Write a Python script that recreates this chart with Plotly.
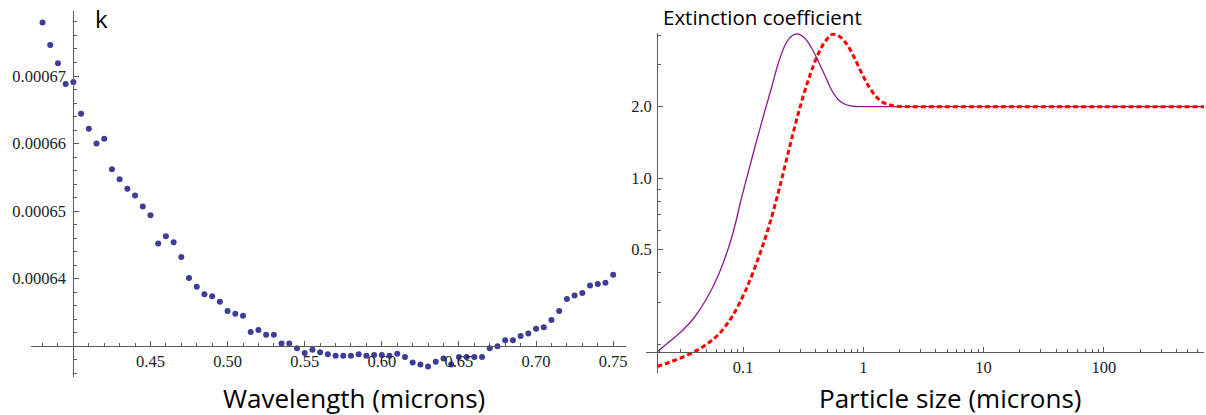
import math
import plotly.graph_objects as go

W, H = 1206, 415

# ---------------- Left panel data: k vs wavelength ----------------
wavelength = [0.380, 0.385, 0.390, 0.395, 0.400, 0.405, 0.410, 0.415, 0.420, 0.425,
              0.430, 0.435, 0.440, 0.445, 0.450, 0.455, 0.460, 0.465, 0.470, 0.475,
              0.480, 0.485, 0.490, 0.495, 0.500, 0.505, 0.510, 0.515, 0.520, 0.525,
              0.530, 0.535, 0.540, 0.545, 0.550, 0.555, 0.560, 0.565, 0.570, 0.575,
              0.580, 0.585, 0.590, 0.595, 0.600, 0.605, 0.610, 0.615, 0.620, 0.625,
              0.630, 0.635, 0.640, 0.645, 0.650, 0.655, 0.660, 0.665, 0.670, 0.675,
              0.680, 0.685, 0.690, 0.695, 0.700, 0.705, 0.710, 0.715, 0.720, 0.725,
              0.730, 0.735, 0.740, 0.745, 0.750]
k_values = [0.0006779, 0.0006746, 0.0006719, 0.0006688, 0.0006691, 0.0006644, 0.0006622, 0.0006600, 0.0006607, 0.0006562,
            0.0006547, 0.0006533, 0.0006523, 0.0006507, 0.0006494, 0.0006452, 0.0006463, 0.0006454, 0.0006432, 0.0006401,
            0.0006388, 0.0006377, 0.0006374, 0.0006366, 0.0006352, 0.0006348, 0.0006345, 0.0006321, 0.0006324, 0.0006317,
            0.0006317, 0.0006304, 0.0006304, 0.0006297, 0.0006290, 0.0006295, 0.0006291, 0.0006288, 0.0006286, 0.0006286,
            0.0006286, 0.0006288, 0.0006286, 0.0006287, 0.0006287, 0.0006286, 0.0006289, 0.0006284, 0.0006276, 0.0006273,
            0.0006270, 0.0006277, 0.0006282, 0.0006273, 0.0006284, 0.0006284, 0.0006284, 0.0006284, 0.0006297, 0.0006300,
            0.0006309, 0.0006309, 0.0006315, 0.0006319, 0.0006326, 0.0006328, 0.0006339, 0.0006352, 0.0006370, 0.0006375,
            0.0006379, 0.0006390, 0.0006392, 0.0006394, 0.0006406]
left_xticks = [0.45, 0.50, 0.55, 0.60, 0.65, 0.70, 0.75]
left_xticklabels = ["0.45", "0.50", "0.55", "0.60", "0.65", "0.70", "0.75"]
left_yticks = [0.00064, 0.00065, 0.00066, 0.00067]
left_yticklabels = ["0.00064", "0.00065", "0.00066", "0.00067"]

# ---------------- Right panel data: extinction coefficient vs size ----------------
size_a = [0.01933, 0.02417, 0.03099, 0.03899, 0.04903, 0.0629, 0.08065, 0.09755, 0.1181, 0.1350,
          0.1543, 0.1730, 0.1978, 0.2261, 0.2536, 0.2861, 0.3251, 0.3716, 0.4248, 0.4857,
          0.5446, 0.6225, 0.7116, 0.8616, 1.105, 10.0, 100.0, 700.0]
qext_a = [0.1859, 0.2043, 0.2273, 0.2578, 0.3069, 0.3950, 0.5656, 0.8333, 1.204, 1.550,
          1.975, 2.421, 3.085, 3.673, 3.969, 4.047, 3.893, 3.533, 3.085, 2.668,
          2.351, 2.134, 2.043, 2.004, 2.0, 2.0, 2.0, 2.0]
size_b = [0.01933, 0.02417, 0.03099, 0.0405, 0.04999, 0.0629, 0.08065, 0.1053, 0.1350, 0.1634,
          0.1978, 0.2394, 0.2899, 0.3509, 0.4248, 0.4857, 0.5551, 0.6345, 0.7254, 0.8293,
          0.9663, 1.105, 1.262, 1.416, 1.619, 1.850, 2.372, 10.0, 100.0, 700.0]
qext_b = [0.1611, 0.1675, 0.1758, 0.1872, 0.2003, 0.2207, 0.2603, 0.3382, 0.4658, 0.6231,
          0.8833, 1.302, 1.900, 2.616, 3.366, 3.781, 4.035, 3.951, 3.673, 3.270,
          2.773, 2.444, 2.219, 2.102, 2.043, 2.014, 2.0, 2.0, 2.0, 2.0]
right_xticks = [0.1, 1, 10, 100]
right_xticklabels = ["0.1", "1", "10", "100"]
right_yticks = [0.5, 1.0, 2.0]
right_yticklabels = ["0.5", "1.0", "2.0"]
right_yminor = [0.2, 0.3, 0.4, 0.6, 0.7, 0.8, 0.9, 3.0, 4.0]
right_xminor = [m * 10.0 ** e for e in range(-2, 3) for m in range(2, 10)]

# ---------------- layout geometry ----------------
L_XDOM = [31 / W, 627 / W]
L_YDOM = [1 - 377 / H, 1 - 11 / H]
L_XR = [0.3725, 0.7583]
L_YR = [0.00062545, 0.00067962]
L_ORIGIN = (0.40, 0.00063)

R_XDOM = [647 / W, 1.0]
R_YDOM = [1 - 373 / H, 1 - 33 / H]
R_XR = [-1.8077, 2.8326]
R_YR = [-0.8202, 0.6113]
R_ORIGIN = (0.01933, 0.185)


def frac(v, rng, dom):
    return dom[0] + (v - rng[0]) / (rng[1] - rng[0]) * (dom[1] - dom[0])


AXC = "#5a5a5a"
TICKFONT = dict(family="Liberation Serif, Times New Roman, serif", size=16.5, color="#222222")

fig = go.Figure()
fig.add_trace(go.Scatter(x=wavelength, y=k_values, mode="markers",
                         marker=dict(size=6, color="#3d3d99"),
                         xaxis="x", yaxis="y", showlegend=False))
fig.add_trace(go.Scatter(x=size_a, y=qext_a, mode="lines", line_shape="spline",
                         line=dict(color="#8a1a8f", width=1.3),
                         xaxis="x2", yaxis="y2", showlegend=False))
fig.add_trace(go.Scatter(x=size_b, y=qext_b, mode="lines", line_shape="spline",
                         line=dict(color="#ff0000", width=3, dash="5px,3px"),
                         xaxis="x2", yaxis="y2", showlegend=False))

common = dict(showgrid=False, zeroline=False, showline=True, linecolor=AXC, linewidth=1.2,
              ticks="inside", tickcolor=AXC, ticklen=5, tickwidth=1, tickfont=TICKFONT)

fig.update_layout(
    width=W, height=H, margin=dict(l=0, r=0, t=0, b=0),
    paper_bgcolor="white", plot_bgcolor="white",
    xaxis=dict(domain=L_XDOM, range=L_XR, anchor="free",
               position=frac(L_ORIGIN[1], L_YR, L_YDOM),
               tickmode="array", tickvals=left_xticks, ticktext=left_xticklabels,
               minor=dict(tick0=0.40, dtick=0.01, ticklen=3, ticks="inside", tickcolor=AXC),
               ticklabelstandoff=0, **common),
    yaxis=dict(domain=L_YDOM, range=L_YR, anchor="free",
               position=frac(L_ORIGIN[0], L_XR, L_XDOM),
               tickmode="array", tickvals=left_yticks, ticktext=left_yticklabels,
               minor=dict(tick0=0.00063, dtick=0.000002, ticklen=3, ticks="inside", tickcolor=AXC),
               ticklabelstandoff=4, **common),
    xaxis2=dict(domain=R_XDOM, range=R_XR, type="log", anchor="free",
                position=frac(math.log10(R_ORIGIN[1]), R_YR, R_YDOM),
                tickmode="array", tickvals=right_xticks, ticktext=right_xticklabels,
                minor=dict(tickmode="array", tickvals=right_xminor, ticklen=3, ticks="inside", tickcolor=AXC),
                ticklabelstandoff=0, **common),
    yaxis2=dict(domain=R_YDOM, range=R_YR, type="log", anchor="free",
                position=frac(math.log10(R_ORIGIN[0]), R_XR, R_XDOM),
                tickmode="array", tickvals=right_yticks, ticktext=right_yticklabels,
                minor=dict(tickmode="array", tickvals=right_yminor, ticklen=3, ticks="inside", tickcolor=AXC),
                ticklabelstandoff=2, **common),
)

TITLEFONT = dict(family="Open Sans", size=26, color="black")
fig.add_annotation(text="Wavelength (microns)", xref="paper", yref="paper",
                   x=355 / W, y=1 - 398 / H, showarrow=False, font=TITLEFONT,
                   xanchor="center", yanchor="middle")
fig.add_annotation(text="Particle size (microns)", xref="paper", yref="paper",
                   x=952 / W, y=1 - 398 / H, showarrow=False, font=TITLEFONT,
                   xanchor="center", yanchor="middle")
fig.add_annotation(text="k", xref="paper", yref="paper",
                   x=102 / W, y=1 - 19 / H, showarrow=False,
                   font=dict(family="Open Sans", size=24, color="black"),
                   xanchor="center", yanchor="middle")
fig.add_annotation(text="Extinction coefficient", xref="paper", yref="paper",
                   x=764 / W, y=1 - 17 / H, showarrow=False,
                   font=dict(family="Open Sans", size=20.5, color="black"),
                   xanchor="center", yanchor="middle")

fig.write_html("out.html")
